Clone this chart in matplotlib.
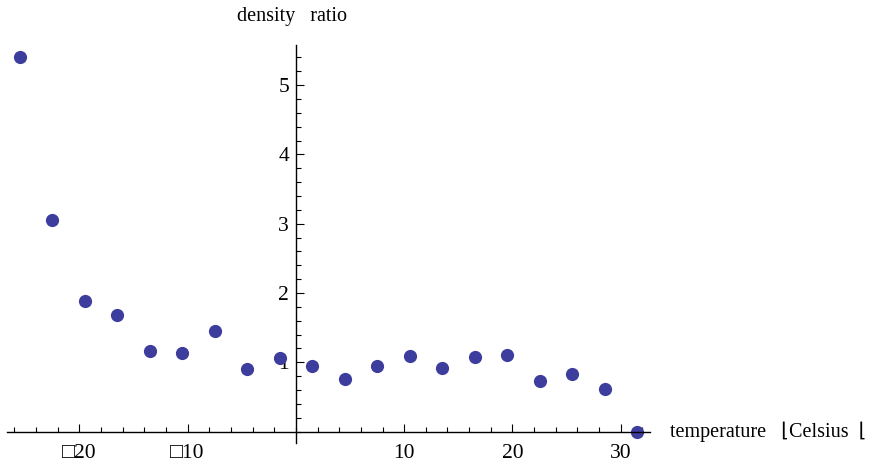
import matplotlib
matplotlib.use("Agg")
import matplotlib.pyplot as plt
from matplotlib.ticker import MultipleLocator, FixedLocator

# temperature (Celsius) and density ratio
temp = [-25.5, -22.5, -19.5, -16.5, -13.5, -10.5, -7.5, -4.5, -1.5, 1.5,
        4.5, 7.5, 10.5, 13.5, 16.5, 19.5, 22.5, 25.5, 28.5, 31.5]
ratio = [5.41, 3.05, 1.88, 1.68, 1.16, 1.13, 1.45, 0.90, 1.06, 0.95,
         0.76, 0.95, 1.09, 0.92, 1.08, 1.10, 0.73, 0.83, 0.61, 0.0]
xticks = [-20, -10, 10, 20, 30]
xlabels = ["\u25a120", "\u25a110", "10", "20", "30"]
yticks = [1, 2, 3, 4, 5]

plt.rcParams['font.family'] = ['Liberation Serif', 'DejaVu Sans']

fig = plt.figure(figsize=(8.75, 4.66), dpi=100)
ax = fig.add_axes([0.00834, 0.0485, 0.7345, 0.855])
ax.plot(temp, ratio, 'o', color='#3d3d9d', markersize=9.5, markeredgewidth=0, clip_on=False)

ax.set_xlim(-26.65, 32.7)
ax.set_ylim(-0.17, 5.58)

for s in ['top', 'right']:
    ax.spines[s].set_visible(False)
ax.spines['left'].set_position(('data', 0))
ax.spines['bottom'].set_position(('data', 0))
ax.spines['left'].set_linewidth(1.0)
ax.spines['bottom'].set_linewidth(1.0)

ax.xaxis.set_major_locator(FixedLocator(xticks))
ax.set_xticklabels(xlabels)
ax.xaxis.set_minor_locator(MultipleLocator(2))
ax.yaxis.set_major_locator(FixedLocator(yticks))
ax.yaxis.set_minor_locator(MultipleLocator(0.2))

ax.tick_params(which='both', direction='in', labelsize=15.5, width=0.8)
ax.tick_params(which='major', length=5.8)
ax.tick_params(which='minor', length=3.4)
ax.tick_params(axis='x', pad=9)
ax.tick_params(axis='y', pad=5)

fig.text(237 / 875, 1 - 17 / 466, "density   ratio", fontsize=14.5, va='center', ha='left')
fig.text(670 / 875, 1 - 432 / 466, "temperature   \u230aCelsius  \u230a", fontsize=14.5, va='center', ha='left')

fig.savefig("out.png", dpi=100)
